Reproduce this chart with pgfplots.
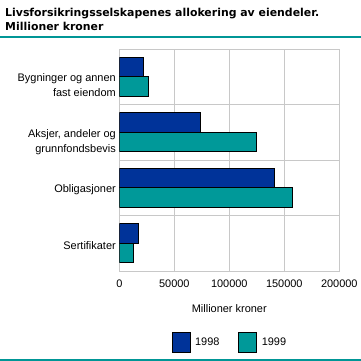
\documentclass[border=0pt]{standalone}
\usepackage{fontspec}
\setmainfont{Liberation Sans}
\newfontfamily\titlefont{DejaVu Sans}
\usepackage{pgfplots}
\pgfplotsset{compat=1.18}
\pgfplotsset{/pgfplots/xbar legend/.style={/pgfplots/legend image code/.code={\draw[##1] (0bp,-10bp) rectangle (18bp,10bp); \path (20.5bp,0bp);}}}
\definecolor{c98}{RGB}{0,51,153}
\definecolor{c99}{RGB}{0,153,153}
\definecolor{rulec}{RGB}{0,150,150}
\definecolor{gridc}{RGB}{200,200,200}
\begin{document}
\begin{tikzpicture}
\path[use as bounding box] (0bp,0bp) rectangle (361bp,361bp);
\node[anchor=base west, inner sep=0pt, font=\titlefont\bfseries\fontsize{10.95}{13}\selectfont] at (5bp,344bp) {Livsforsikringsselskapenes allokering av eiendeler.};
\node[anchor=base west, inner sep=0pt, font=\titlefont\bfseries\fontsize{10.95}{13}\selectfont] at (5bp,330bp) {Millioner kroner};
\draw[rulec, line width=2bp] (0bp,324bp) -- (361bp,324bp);
\draw[rulec, line width=2bp] (0bp,1bp) -- (361bp,1bp);
\begin{axis}[
  at={(119.3bp,90bp)}, anchor=south west,
  scale only axis, width=220bp, height=222bp,
  xbar, bar width=0.35,
  xmin=0, xmax=200000, ymin=-0.5, ymax=3.5,
  axis line style={gridc},
  xtick={0,50000,100000,150000,200000},
  xticklabels={0,50000,100000,150000,200000},
  scaled x ticks=false,
  xmajorgrids, grid style={gridc, line width=0.8bp},
  ytick={2.851,1.824,0.959,-0.05},
  yticklabels={{Bygninger og annen\\fast eiendom},{Aksjer, andeler og\\grunnfondsbevis},{Obligasjoner},{Sertifikater}},
  minor ytick={0.5,1.5,2.5}, yminorgrids, minor grid style={gridc, line width=0.8bp},
  major tick length=0pt, minor tick length=0pt,
  tick label style={font=\fontsize{11}{14.5}\selectfont},
  yticklabel style={align=right},
  xticklabel style={yshift=-5bp},
  xlabel={Millioner kroner},
  xlabel style={font=\fontsize{11}{13}\selectfont, yshift=-10bp},
  legend style={at={(0.503,-0.32)}, anchor=center, draw=none, fill=none,
    font=\fontsize{11}{13}\selectfont,
    /tikz/every even column/.append style={column sep=17bp}},
  legend columns=2,
]
\addplot[fill=c98, draw=black, line width=0.8bp, bar shift=0.175]
  coordinates {(21800,3) (74000,2) (141000,1) (17600,0)};
\addplot[fill=c99, draw=black, line width=0.8bp, bar shift=-0.175]
  coordinates {(26700,3) (124900,2) (157600,1) (12700,0)};
\legend{1998,1999}
\end{axis}
\end{tikzpicture}
\end{document}
